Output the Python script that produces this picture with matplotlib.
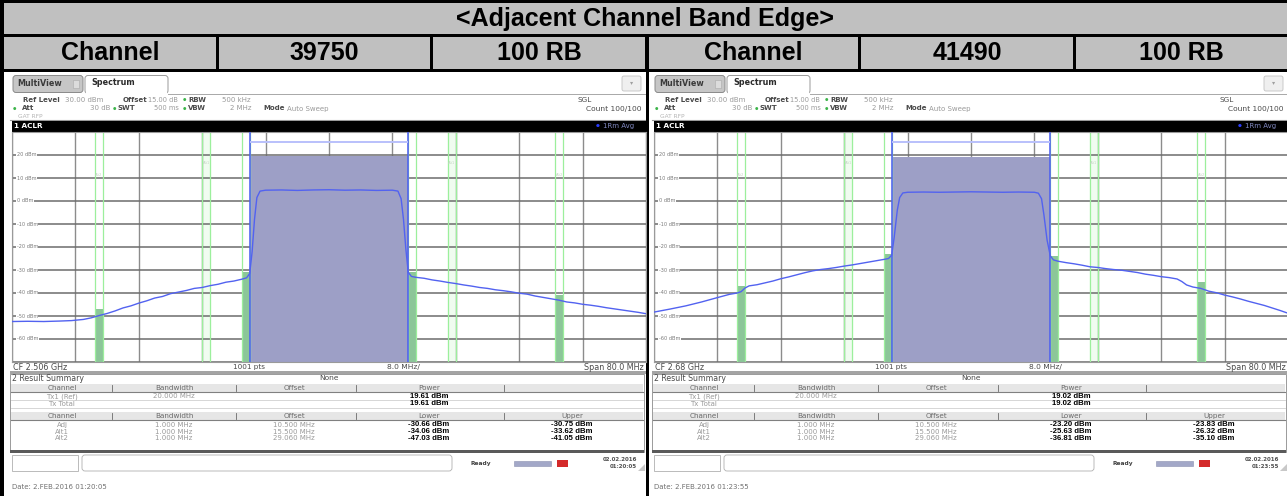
import matplotlib
matplotlib.use("Agg")
import matplotlib.pyplot as plt
import numpy as np
from matplotlib.patches import Rectangle, FancyBboxPatch

W, H = 1287, 496

# ---------------- data ----------------
title = "<Adjacent Channel Band Edge>"
header_cells = ["Channel", "39750", "100 RB", "Channel", "41490", "100 RB"]

span_mhz = 80.0
ref_level = 30
y_bottom = -70
grid_levels = [20, 10, 0, -10, -20, -30, -40, -50, -60]

tx_bw = 20.0
tx_marker_level = 25.5
adj_names = ["Adj", "Alt1", "Alt2"]
adj_offsets = [10.5, 15.5, 29.06]
adj_offset_labels = ["10.500 MHz", "15.500 MHz", "29.060 MHz"]
adj_bw = 1.0
adj_filled = [True, False, True]

cf_labels = ["CF 2.506 GHz", "CF 2.68 GHz"]
tx_power = [19.61, 19.02]
lower_power = [[-30.66, -34.06, -47.03], [-23.20, -25.63, -36.81]]
upper_power = [[-30.75, -33.62, -41.05], [-23.83, -26.32, -35.10]]
stamp_dates = ["02.02.2016", "02.02.2016"]
stamp_times = ["01:20:05", "01:23:55"]
date_lines = ["Date: 2.FEB.2016 01:20:05", "Date: 2.FEB.2016 01:23:55"]

left_freq = [-40, -38, -36, -34, -32.5, -31, -30, -29, -28, -27,
             -26, -25, -24, -23, -22, -21, -20, -19, -18, -17, -16, -15, -14, -13, -12, -11,
             -10.4, -10.0, -9.7, -9.4, -9.1, -8.7,
             -8, -6, -4, -2, 0, 2, 4, 6, 8,
             8.7, 9.1, 9.4, 9.7, 10.0, 10.4,
             11, 12, 13, 14, 15, 16, 17, 18, 19, 20, 21, 22, 23, 24, 25, 26, 27, 28, 29, 30,
             31, 32, 33, 34, 35, 36, 37, 38, 39, 40]
left_level = [-52.4, -52.3, -52.4, -52.2, -52.0, -51.5, -50.8, -49.8, -48.9, -47.8,
              -46.5, -45.6, -44.4, -43.4, -42.2, -41.5, -40.3, -39.6, -38.9, -38.0, -37.6, -36.8,
              -36.2, -35.3, -34.8, -34.0,
              -33.4, -31.5, -22, -8, 1.5, 4.3,
              4.7, 4.8, 4.6, 4.8, 4.9, 4.7, 4.8, 4.6, 4.7,
              4.3, 1.0, -8, -21, -31.0, -32.8,
              -33.2, -33.6, -34.3, -34.8, -35.4, -35.9, -36.5, -37.0, -37.6, -38.0, -38.6, -39.0,
              -39.5, -40.1, -40.5, -41.3, -41.9, -42.5, -43.1, -43.9,
              -44.3, -44.9, -45.3, -45.8, -46.4, -46.9, -47.4, -47.9, -48.4, -49.0]

right_freq = [-40, -38, -36, -34, -32, -30.5, -29.5, -29.0, -28.5, -28.0,
              -27, -26, -25, -24, -23, -22, -21, -20, -19, -18, -17, -16, -15, -14, -13, -12, -11,
              -10.4, -10.0, -9.7, -9.3, -9.0, -8.6,
              -8, -6, -4, -2, 0, 2, 4, 6, 8,
              8.5, 8.9, 9.2, 9.6, 10.0, 10.4,
              11, 12, 13, 14, 15, 16, 17, 18, 19, 20, 21, 22, 23, 24, 25, 26,
              26.6, 27.2,
              28, 29, 30, 31, 32, 33, 34, 35, 36, 37, 38, 39, 40]
right_level = [-48.3, -47.0, -45.6, -43.9, -42.0, -40.6, -40.0, -39.4, -37.8, -36.9,
               -36.4, -35.6, -34.8, -33.8, -33.0, -32.1, -31.2, -30.4, -29.8, -29.4, -28.9,
               -28.3, -27.8, -27.2, -26.6, -26.0, -25.4,
               -25.0, -23.5, -16, -4, 1.5, 3.5,
               3.8, 3.9, 3.8, 3.9, 4.0, 3.9, 3.8, 3.9, 3.8,
               3.4, 1.0, -6, -17, -23.8, -25.6,
               -26.2, -26.8, -27.3, -27.9, -28.6, -28.9, -29.4, -29.8, -30.1, -30.6, -31.1,
               -31.8, -32.3, -32.9, -33.3, -33.9,
               -35.0, -36.5,
               -37.4, -38.0, -39.2, -39.9, -40.9, -41.7, -42.6, -43.6, -44.5, -45.4, -46.5,
               -47.6, -48.8]

traces = [(left_freq, left_level), (right_freq, right_level)]

# ---------------- figure ----------------
fig = plt.figure(figsize=(W / 100, H / 100), dpi=100)
fig.patch.set_facecolor("white")
ax0 = fig.add_axes([0, 0, 1, 1])
ax0.set_xlim(0, W)
ax0.set_ylim(H, 0)
ax0.axis("off")

SMALL = "DejaVu Sans"


def rect(x0, y0, x1, y1, fc, ec="none", lw=0.0, z=1):
    ax0.add_patch(Rectangle((x0, y0), x1 - x0, y1 - y0, facecolor=fc,
                            edgecolor=ec, linewidth=lw, zorder=z))


def txt(x, y, s, size=5.0, color="#555555", ha="left", weight="normal", z=5, family=SMALL):
    ax0.text(x, y, s, fontsize=size, color=color, ha=ha, va="center",
             fontweight=weight, family=family, zorder=z)


# header table
rect(0, 0, W, 72, "black")
rect(4, 3, W, 34, "#c0c0c0", z=2)
cells = [(4, 216), (219, 430), (433, 645), (649, 858), (861, 1073), (1076, W)]
for (a, b), s in zip(cells, header_cells):
    rect(a, 37, b, 69, "#c0c0c0", z=2)
    ax0.text((a + b) / 2, 53.5, s, fontsize=18, fontweight="bold", family="Liberation Sans",
             ha="center", va="center", color="black", zorder=3)
ax0.text(645, 19, title, fontsize=18, fontweight="bold", family="Liberation Sans",
         ha="center", va="center", color="black", zorder=3)
rect(0, 72, 4, H, "black")
rect(646, 72, 649, H, "black", z=6)

panel_dx = [0, 642]
GRAY = "#9a9a9a"
DARK = "#4a4a4a"

for i, dx in enumerate(panel_dx):
    # tabs
    ax0.add_patch(FancyBboxPatch((dx + 13, 75.5), 70, 17, boxstyle="round,pad=0,rounding_size=3",
                                 fc="#c6c6c6", ec="#8a8a8a", lw=0.7, zorder=2))
    txt(dx + 17, 84, "MultiView", size=5.8, color="#3a3a3a", weight="bold")
    rect(dx + 73, 80, dx + 79, 88, "#dcdcdc", ec="#aaaaaa", lw=0.4, z=3)
    ax0.add_patch(FancyBboxPatch((dx + 85, 75.5), 83, 18, boxstyle="round,pad=0,rounding_size=3",
                                 fc="white", ec="#9a9a9a", lw=0.7, zorder=2))
    rect(dx + 86, 90, dx + 167, 95, "white", z=3)
    txt(dx + 91, 82.5, "Spectrum", size=5.8, color="#2a2a2a", weight="bold")
    ax0.plot([dx + 168, dx + 645], [93.5, 93.5], color="#a8a8a8", lw=0.7, zorder=3)
    ax0.add_patch(FancyBboxPatch((dx + 622, 76), 19, 15, boxstyle="round,pad=0,rounding_size=2",
                                 fc="#efefef", ec="#c2c2c2", lw=0.6, zorder=2))
    txt(dx + 631.5, 83, "\u25be", size=4.5, color="#a0a0a0", ha="center")

    # info lines
    txt(dx + 23, 100, "Ref Level", weight="bold", color=DARK)
    txt(dx + 65, 100, "30.00 dBm", color=GRAY)
    txt(dx + 123, 100, "Offset", weight="bold", color=DARK)
    txt(dx + 148, 100, "15.00 dB", size=4.8, color=GRAY)
    txt(dx + 182.5, 100, "\u25cf", size=2.8, color="#3cb44a")
    txt(dx + 188, 100, "RBW", weight="bold", color=DARK)
    txt(dx + 222, 100, "500 kHz", color=GRAY)
    txt(dx + 13, 108.5, "\u25cf", size=2.8, color="#3cb44a")
    txt(dx + 22, 108.5, "Att", weight="bold", color=DARK)
    txt(dx + 110, 108.5, "30 dB", color=GRAY, ha="right")
    txt(dx + 112.5, 108.5, "\u25cf", size=2.8, color="#3cb44a")
    txt(dx + 118, 108.5, "SWT", weight="bold", color=DARK)
    txt(dx + 154, 108.5, "500 ms", size=4.8, color=GRAY)
    txt(dx + 182.5, 108.5, "\u25cf", size=2.8, color="#3cb44a")
    txt(dx + 188, 108.5, "VBW", weight="bold", color=DARK)
    txt(dx + 230, 108.5, "2 MHz", color=GRAY)
    txt(dx + 263, 108.5, "Mode", weight="bold", color=DARK)
    txt(dx + 287, 108.5, "Auto Sweep", color=GRAY)
    txt(dx + 18, 116.5, "GAT RFP", size=4.2, color="#b4b4b4")
    txt(dx + 578, 100, "SGL", size=5.2, color=DARK)
    txt(dx + 642, 108.5, "Count 100/100", size=5.4, color=DARK, ha="right")

    # black title bar
    ax0.plot([dx + 10, dx + 646], [119.5, 119.5], color="#9a9a9a", lw=0.8, zorder=3)
    rect(dx + 12, 121, dx + 646, 131.5, "black", z=3)
    txt(dx + 14, 126.2, "1 ACLR", size=5.2, color="white", weight="bold")
    txt(dx + 596, 126.2, "\u25cf", size=3.2, color="#2a3cff")
    txt(dx + 603, 126.2, "1Rm Avg", size=5.0, color="#8088c0")

    # status line under plot
    txt(dx + 13, 367, cf_labels[i], size=5.8, color=DARK)
    txt(dx + 233, 367, "1001 pts", size=5.2, color=DARK)
    txt(dx + 387, 367, "8.0 MHz/", size=5.4, color=DARK)
    txt(dx + 644, 367, "Span 80.0 MHz", size=5.8, color=DARK, ha="right")
    rect(dx + 10, 371, dx + 646, 374, "#a4a4a4", z=2)

    # result summary
    rect(dx + 10, 374, dx + 644, 452, "white", ec="#9a9a9a", lw=0.7, z=1)
    txt(dx + 12, 378.5, "2 Result Summary", size=5.6, color=DARK)
    txt(dx + 319, 378.5, "None", size=5.4, color=DARK)
    cols = [62, 174, 294, 429, 572]
    seps = [112, 236, 356, 504]
    for (y0h, y1h, names) in [(383.5, 392, ["Channel", "Bandwidth", "Offset", "Power"]),
                              (411.5, 420, ["Channel", "Bandwidth", "Offset", "Lower", "Upper"])]:
        rect(dx + 11, y0h, dx + 643, y1h, "#e6e6e6", z=2)
        ax0.plot([dx + 11, dx + 643], [y1h, y1h], color="#808080", lw=0.8, zorder=3)
        for sx in seps:
            ax0.plot([dx + sx, dx + sx], [y0h + 1.5, y1h - 1.5], color="#6a6a6a", lw=0.6, zorder=3)
        for cx, nm in zip(cols, names):
            txt(dx + cx, (y0h + y1h) / 2, nm, size=5.2, color="#6a6a6a", ha="center", z=4)
    txt(dx + 62, 396.5, "Tx1 (Ref)", size=5.0, color=GRAY, ha="center")
    txt(dx + 174, 396.5, "20.000 MHz", size=5.0, color=GRAY, ha="center")
    txt(dx + 429, 396.5, f"{tx_power[i]:.2f} dBm", size=5.6, color="black", ha="center",
        weight="bold", family="Liberation Sans")
    ax0.plot([dx + 11, dx + 643], [400.2, 400.2], color="#d0d0d0", lw=0.6, zorder=3)
    txt(dx + 62, 403.5, "Tx Total", size=5.0, color=GRAY, ha="center")
    txt(dx + 429, 403.5, f"{tx_power[i]:.2f} dBm", size=5.6, color="black", ha="center",
        weight="bold", family="Liberation Sans")
    ax0.plot([dx + 11, dx + 643], [407.5, 407.5], color="#d0d0d0", lw=0.6, zorder=3)
    for k, nm in enumerate(adj_names):
        yy = 425 + 6.5 * k
        txt(dx + 62, yy, nm, size=5.0, color=GRAY, ha="center")
        txt(dx + 174, yy, f"{adj_bw:.3f} MHz", size=5.0, color=GRAY, ha="center")
        txt(dx + 294, yy, adj_offset_labels[k], size=5.0, color=GRAY, ha="center")
        txt(dx + 429, yy, f"{lower_power[i][k]:.2f} dBm", size=5.6, color="black", ha="center",
            weight="bold", family="Liberation Sans")
        txt(dx + 572, yy, f"{upper_power[i][k]:.2f} dBm", size=5.6, color="black", ha="center",
            weight="bold", family="Liberation Sans")
    rect(dx + 10, 449.5, dx + 644, 452.5, "#5a5a5a", z=3)

    # status bar
    rect(dx + 12, 455, dx + 78, 471, "white", ec="#b0b0b0", lw=0.6, z=2)
    ax0.add_patch(FancyBboxPatch((dx + 82, 455), 370, 16, boxstyle="round,pad=0,rounding_size=3",
                                 fc="white", ec="#b0b0b0", lw=0.6, zorder=2))
    txt(dx + 481, 463, "Ready", size=4.2, color="#404040", weight="bold", ha="center")
    rect(dx + 514, 460.5, dx + 551, 465.5, "#a3a8c8", ec="#8a8fb0", lw=0.4, z=2)
    rect(dx + 557, 459.5, dx + 568, 466.5, "#d42a2a", z=2)
    txt(dx + 637, 459.5, stamp_dates[i], size=4.0, color="#505050", ha="right", weight="bold")
    txt(dx + 637, 466.5, stamp_times[i], size=4.0, color="#505050", ha="right", weight="bold")
    ax0.add_patch(plt.Polygon([[dx + 638, 471], [dx + 645, 471], [dx + 645, 464]],
                              closed=True, fc="#c8c8c8", ec="none", zorder=2))
    txt(dx + 12, 487, date_lines[i], size=5.0, color="#707070")

# ---------------- spectrum plots ----------------
plot_px = [(12, 646), (654, 1288)]
PT, PB = 132, 362
for i, (L, R) in enumerate(plot_px):
    ax = fig.add_axes([L / W, 1 - PB / H, (R - L) / W, (PB - PT) / H])
    ax.set_xlim(-span_mhz / 2, span_mhz / 2)
    ax.set_ylim(y_bottom, ref_level)
    ax.set_xticks(np.arange(-span_mhz / 2, span_mhz / 2 + 1, span_mhz / 10))
    ax.set_yticks(range(y_bottom, ref_level + 1, 10))
    ax.tick_params(length=0, labelbottom=False, labelleft=False)
    ax.set_axisbelow(True)
    ax.xaxis.grid(True, color="#8c8c8c", lw=1.0)
    ax.yaxis.grid(True, color="#6c6c6c", lw=1.1)
    for sp in ax.spines.values():
        sp.set_color("#9a9a9a")
        sp.set_linewidth(0.8)

    # Tx channel
    ax.bar(0, tx_power[i] - y_bottom, width=tx_bw, bottom=y_bottom,
           color="#9d9fc6", zorder=2)
    for s in (-1, 1):
        ax.axvline(s * tx_bw / 2, color="#4a5af5", lw=1.1, zorder=3)
    ax.hlines(tx_marker_level, -tx_bw / 2, tx_bw / 2, color="#b9c0fb", lw=1.4, zorder=3)

    # adjacent / alternate channels
    for k, off in enumerate(adj_offsets):
        for s, vals in ((-1, lower_power[i]), (1, upper_power[i])):
            c = s * off
            if adj_filled[k]:
                ax.bar(c, vals[k] - y_bottom, width=adj_bw, bottom=y_bottom,
                       color="#8cc699", zorder=2)
            else:
                ax.axvspan(c - adj_bw / 2, c + adj_bw / 2, color="#f0fcf0", zorder=0.3)
            for e in (-1, 1):
                ax.axvline(c + e * adj_bw / 2, color="#9cef9c", lw=0.9, zorder=2.5)
            if k > 0:
                ax.text(c, 16.5 if k == 1 else 11.5, adj_names[k], fontsize=2.6,
                        color="#c4d4c4", ha="center", va="center", zorder=4)

    # trace
    fx, lv = traces[i]
    ax.plot(fx, lv, color="#5262f0", lw=1.0, zorder=4)

    # level labels
    for lvl in grid_levels:
        ax.text(-span_mhz / 2 + 0.6, lvl, f"{lvl} dBm", fontsize=3.6, color="#7a7a7a",
                ha="left", va="center", zorder=5,
                bbox=dict(fc="white", ec="none", pad=0.3))

fig.savefig("out.png", dpi=100)
